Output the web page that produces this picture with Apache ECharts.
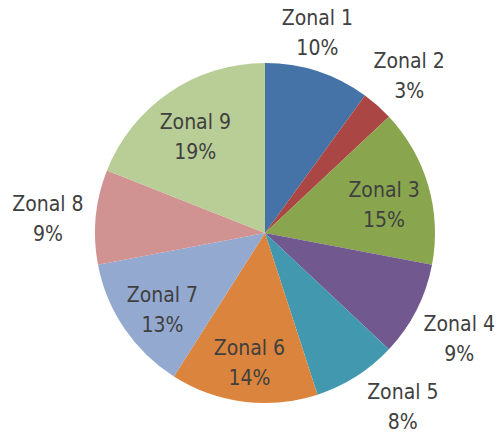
<!DOCTYPE html>
<html>
<head>
<meta charset="utf-8">
<script src="https://cdn.jsdelivr.net/npm/echarts@6/dist/echarts.min.js"></script>
<style>
  html, body { margin: 0; padding: 0; background: #fff; }
  #chart { width: 500px; height: 435px; }
</style>
</head>
<body>
<div id="chart"></div>
<script>
// zone names and their share of the total (%)
const zones = ['Zonal 1', 'Zonal 2', 'Zonal 3', 'Zonal 4', 'Zonal 5', 'Zonal 6', 'Zonal 7', 'Zonal 8', 'Zonal 9'];
const shares = [10, 3, 15, 9, 8, 14, 13, 9, 19];
const colors = ['#4572A7', '#AA4643', '#89A54E', '#71588F', '#4198AF', '#DB843D', '#93A9CF', '#D19392', '#B9CD96'];
// labels drawn on the slice itself, the rest go outside
const insideZones = ['Zonal 3', 'Zonal 6', 'Zonal 7', 'Zonal 9'];

const chart = echarts.init(document.getElementById('chart'), null, { renderer: 'svg' });

const center = [265, 233];
// small label nudges (px) where the original keeps a label off the radial line
const labelNudge = { 'Zonal 1': [-15, 7], 'Zonal 5': [21, -10] };

const labelStyle = {
  color: '#404040',
  fontFamily: '"DejaVu Sans Condensed", "DejaVu Sans", sans-serif',
  fontSize: 21,
  lineHeight: 30,
  position: 'inside',
  offset: [0, 7],
  formatter: (p) => p.name + '\n' + Math.round(p.percent) + '%',
};

// transparent helper ring used only to place a set of labels at a given distance
const labelRing = (outerRadius, showFor) => ({
  type: 'pie',
  center: center,
  radius: [0, outerRadius],
  silent: true,
  avoidLabelOverlap: false,
  emphasis: { disabled: true },
  itemStyle: { color: 'rgba(0,0,0,0)', borderWidth: 0 },
  labelLine: { show: false },
  label: labelStyle,
  data: zones.map((name, i) => {
    const label = { show: showFor(name) };
    if (labelNudge[name]) label.offset = labelNudge[name];
    return { name: name, value: shares[i], label: label };
  }),
});

chart.setOption({
  animation: false,
  series: [
    {
      type: 'pie',
      center: center,
      radius: 170,
      startAngle: 90,
      silent: true,
      label: { show: false },
      labelLine: { show: false },
      data: zones.map((name, i) => ({
        name: name,
        value: shares[i],
        itemStyle: { color: colors[i] },
      })),
    },
    labelRing(242, (n) => insideZones.includes(n)),
    labelRing(430, (n) => !insideZones.includes(n)),
  ],
});
</script>
</body>
</html>
